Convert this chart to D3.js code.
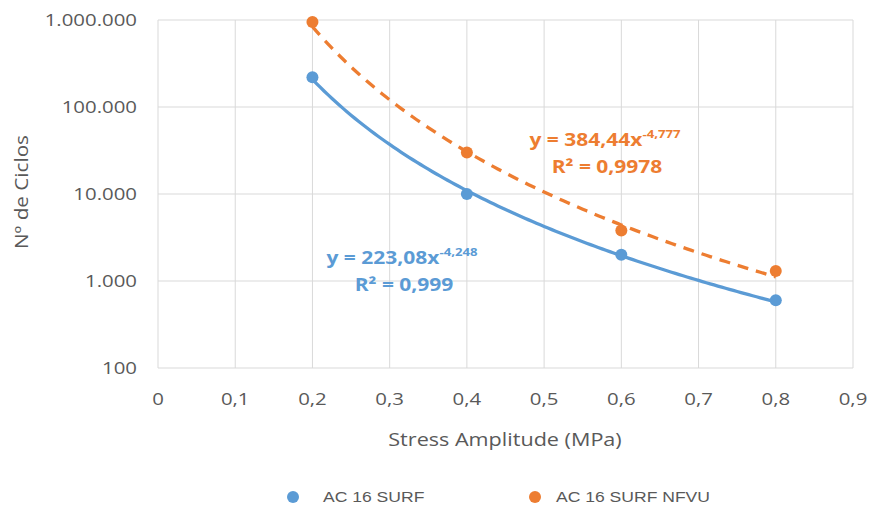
<!DOCTYPE html>
<html><head><meta charset="utf-8">
<script src="https://cdn.jsdelivr.net/npm/d3@7"></script>
<style>body{margin:0;background:#fff}svg{display:block}</style>
</head><body><svg id="c" width="869" height="509"></svg>
<script>
const stress = [0.2, 0.4, 0.6, 0.8];
const cyclesSurf = [220000, 10000, 2000, 600];
const cyclesNfvu = [950000, 30000, 3800, 1300];
const fitSurf = {a: 223.08, b: -4.248};
const fitNfvu = {a: 384.44, b: -4.777};
const xTicks = [0, 0.1, 0.2, 0.3, 0.4, 0.5, 0.6, 0.7, 0.8, 0.9];
const yTicks = [100, 1000, 10000, 100000, 1000000];
const seriesNames = ["AC 16 SURF", "AC 16 SURF NFVU"];
const colors = ["#5B9BD5", "#ED7D31"];

const svg = d3.select("#c");
const L = 158, R = 853, T = 20, B = 368;
const x = d3.scaleLinear().domain([0, 0.9]).range([L, R]);
const y = d3.scaleLog().domain([100, 1000000]).range([B, T]);
const SX = 1.2;
const fmtY = d => d3.format(",")(d).replace(/,/g, ".");
const fmtX = d => String(d).replace(".", ",");

// grid
svg.append("g").selectAll("line").data(xTicks).join("line")
  .attr("x1", d => x(d)).attr("x2", d => x(d)).attr("y1", T).attr("y2", B)
  .attr("stroke", "#d9d9d9").attr("stroke-width", 1);
svg.append("g").selectAll("line").data(yTicks).join("line")
  .attr("x1", L).attr("x2", R).attr("y1", d => y(d)).attr("y2", d => y(d))
  .attr("stroke", "#d9d9d9").attr("stroke-width", 1);

function txt(g, s, px, py, anchor, size, color, weight, family, sx) {
  return g.append("text").attr("transform", `translate(${px},${py}) scale(${sx||SX},1)`)
    .attr("text-anchor", anchor).attr("font-size", size).attr("fill", color)
    .attr("font-weight", weight || "normal").attr("font-family", family || "'Open Sans', sans-serif")
    .text(s);
}
// tick labels
const gl = svg.append("g");
yTicks.forEach(d => txt(gl, fmtY(d), 137, y(d) + 6, "end", 17, "#595959"));
xTicks.forEach(d => txt(gl, fmtX(d), x(d), 405, "middle", 17, "#595959"));
// axis titles
txt(gl, "Stress Amplitude (MPa)", 505, 446, "middle", 18, "#595959");
gl.append("text").attr("transform", "translate(28,192) rotate(-90) scale(1.15,1)")
  .attr("text-anchor", "middle").attr("font-size", 18).attr("fill", "#595959")
  .attr("font-family", "'Open Sans', sans-serif").text("Nº de Ciclos");

// trendlines
const xs = d3.range(0.2, 0.8001, 0.005);
const line = d3.line().x(d => x(d[0])).y(d => y(d[1])).curve(d3.curveLinear);
[fitSurf, fitNfvu].forEach((f, i) => {
  svg.append("path").datum(xs.map(v => [v, f.a * Math.pow(v, f.b)]))
    .attr("d", line).attr("fill", "none").attr("stroke", colors[i])
    .attr("stroke-width", 3.3).attr("stroke-dasharray", i === 1 ? "11,8" : null)
    .attr("stroke-linecap", "butt");
});
// points
[cyclesSurf, cyclesNfvu].forEach((vals, i) => {
  svg.append("g").selectAll("circle").data(vals).join("circle")
    .attr("cx", (d, j) => x(stress[j])).attr("cy", d => y(d)).attr("r", 6)
    .attr("fill", colors[i]);
});

// equation labels
function eq(px, py, f, r2, color) {
  const t = svg.append("text").attr("transform", `translate(${px},${py}) scale(${SX},1)`)
    .attr("text-anchor", "middle").attr("font-size", 17.5).attr("font-weight", "bold")
    .attr("fill", color).attr("font-family", "'Open Sans', sans-serif");
  t.append("tspan").text("y = " + String(f.a).replace(".", ",") + "x");
  t.append("tspan").attr("dy", -8).attr("font-size", 11).text(String(f.b).replace(".", ","));
  txt(svg, "R² = " + r2, px + 2, py + 27, "middle", 17.5, color, "bold");
}
eq(402, 264, fitSurf, "0,999", colors[0]);
eq(605, 146, fitNfvu, "0,9978", colors[1]);

// legend
const lg = svg.append("g");
[[293, 323], [535, 556]].forEach((p, i) => {
  lg.append("circle").attr("cx", p[0]).attr("cy", 497).attr("r", 6).attr("fill", colors[i]);
  txt(lg, seriesNames[i], p[1], 502, "start", 15, "#595959", "normal", "'Liberation Sans', Arial, sans-serif", 1.17);
});
</script></body></html>
